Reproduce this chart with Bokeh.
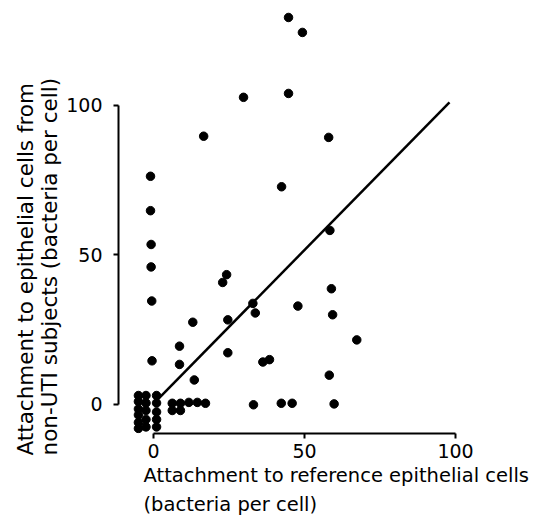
from bokeh.plotting import figure
from bokeh.models import Range1d, FixedTicker, Title
from bokeh.embed import file_html
from bokeh.resources import INLINE

# Attachment to reference epithelial cells (bacteria per cell)
x_vals = [
    -1, -1, -0.8, -0.8, -0.6, -0.5,
    -5, -5, -5, -5, -5, -5,
    -2.5, -2.5, -2.5, -2.5, -2.5,
    1, 1, 1, 1, 1,
    6.2, 8.9, 11.7, 14.5, 17.2, 6.2, 8.9,
    8.6, 8.6, 13, 13.5, 16.6, 22.9, 24.2, 24.6, 24.6, 29.8,
    32.9, 33.7, 33.1, 36.2, 38.4, 42.3, 42.4, 44.7, 44.7, 45.9,
    47.8, 49.3, 58, 58.4, 58.9, 59.3, 58.2, 59.8, 67.3,
]
# Attachment to epithelial cells from non-UTI subjects (bacteria per cell)
y_vals = [
    76.3, 64.8, 53.5, 46, 34.6, 14.6,
    3, 1, -1.5, -3.5, -6, -8,
    3, 0.5, -2, -5, -7.5,
    3, 0.5, -2.5, -5, -7.5,
    0.4, 0.4, 0.7, 0.7, 0.4, -2, -2,
    19.5, 13.4, 27.5, 8.2, 89.7, 40.8, 43.4, 28.3, 17.3, 102.7,
    33.8, 30.6, -0.1, 14.2, 15, 0.4, 72.8, 129.4, 104, 0.4,
    32.9, 124.4, 89.3, 58.2, 38.7, 30, 9.8, 0.2, 21.6,
]
fit_x = [1.5, 98]
fit_y = [1.8, 101]
ticks = [0, 50, 100]

p = figure(width=535, height=516, output_backend="svg", toolbar_location=None,
           x_range=Range1d(-11.6, 104.96), y_range=Range1d(-9.7, 132.4),
           min_border_left=118, min_border_right=65, min_border_top=8,
           min_border_bottom=83)
p.outline_line_color = None
p.grid.visible = False
p.background_fill_color = "white"
p.border_fill_color = "white"

for ax in (p.xaxis[0], p.yaxis[0]):
    ax.ticker = FixedTicker(ticks=ticks)
    ax.bounds = (0, 100)
    ax.axis_line_width = 2
    ax.axis_line_color = "black"
    ax.major_tick_line_width = 2
    ax.major_tick_line_color = "black"
    ax.major_tick_out = 5
    ax.major_tick_in = 0
    ax.minor_tick_out = 0
    ax.minor_tick_in = 0
    ax.major_label_text_font = "DejaVu Sans"
    ax.major_label_text_font_size = "19px"
    ax.major_label_text_color = "black"
p.xaxis.major_label_standoff = 5
p.yaxis.major_label_standoff = 11

p.line(fit_x, fit_y, line_width=2.5, color="black")
p.scatter(x_vals, y_vals, size=8.5, color="black")

xt = Title(text="Attachment to reference epithelial cells\n(bacteria per cell)",
           align="left", offset=25, standoff=2,
           text_font="DejaVu Sans", text_font_size="19.5px",
           text_font_style="normal", text_color="black", text_line_height=1.25)
p.add_layout(xt, "below")

yt = Title(text="Attachment to epithelial cells from\nnon-UTI subjects (bacteria per cell)",
           align="left", offset=-22, standoff=4,
           text_font="DejaVu Sans", text_font_size="21.5px",
           text_font_style="normal", text_color="black", text_line_height=0.95)
p.add_layout(yt, "left")

open("out.html", "w").write(file_html(p, INLINE))
